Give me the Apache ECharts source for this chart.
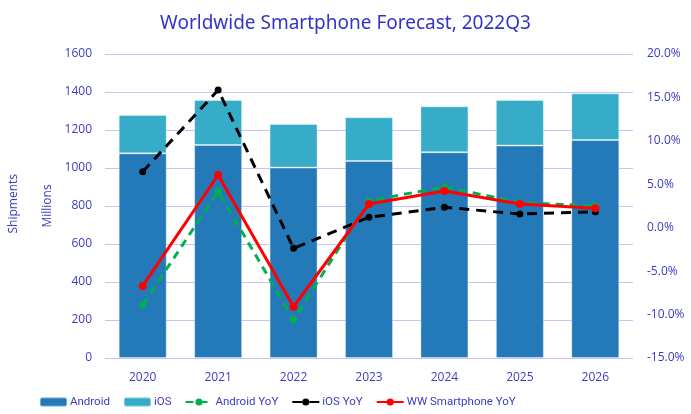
<!DOCTYPE html>
<html><head><meta charset="utf-8">
<script src="https://cdn.jsdelivr.net/npm/echarts@6/dist/echarts.min.js"></script>
<style>html,body{margin:0;padding:0;background:#fff}#c{width:691px;height:414px}</style>
</head><body><div id="c"></div>
<script>
const years = ['2020','2021','2022','2023','2024','2025','2026'];
const android = [1077, 1121, 1002, 1037, 1083, 1118, 1147];
const ios = [202, 237, 230, 230, 242, 240, 246];
const androidYoY = [-8.9, 4.2, -10.6, 3.1, 4.7, 2.9, 2.5];
const iosYoY = [6.45, 15.85, -2.37, 1.2, 2.35, 1.58, 1.84];
const wwYoY = [-6.7, 6.07, -9.1, 2.73, 4.22, 2.73, 2.23];
const leftTicks = [0, 200, 400, 600, 800, 1000, 1200, 1400, 1600];

const txt = '#3b3bc4';
const font = 'Open Sans';
const chart = echarts.init(document.getElementById('c'));
chart.setOption({
  animation: false,
  title: { text: 'Worldwide Smartphone Forecast, 2022Q3', left: 'center', top: 9,
    textStyle: { color: '#3333cc', fontSize: 19, fontWeight: 'normal', fontFamily: 'Noto Sans' } },
  graphic: [{ type: 'text', left: 8, top: 174, rotation: Math.PI/2,
    style: { text: 'Shipments', fill: txt, font: '12px "Open Sans"' } }],
  legend: { bottom: 1, left: 34, itemWidth: 27, itemHeight: 9, itemGap: 13,
    textStyle: { color: txt, fontSize: 11.5, fontFamily: 'Roboto', padding: [0, 0, 0, -2] },
    data: ['Android', 'iOS', 'Android YoY', 'iOS YoY', 'WW Smartphone YoY'] },
  grid: { left: 105, right: 58, top: 54, bottom: 56 },
  xAxis: { type: 'category', data: years,
    axisLine: { show: false }, axisTick: { show: false },
    axisLabel: { color: txt, fontSize: 12, fontFamily: font, margin: 14 } },
  yAxis: [
    { type: 'value', min: 0, max: 1600, interval: 200, name: 'Millions', nameLocation: 'middle',
      nameGap: 45, nameRotate: 90, nameTextStyle: { color: txt, fontSize: 12, fontFamily: font },
      axisLabel: { color: txt, fontSize: 12, fontFamily: font, margin: 13, formatter: v => String(v) },
      splitLine: { lineStyle: { color: '#c4c4f8', width: 1 } } },
    { type: 'value', min: -15, max: 20, interval: 5,
      axisLabel: { color: txt, fontSize: 12, fontFamily: font, margin: 14, formatter: v => v.toFixed(1) + '%' },
      splitLine: { show: false } }
  ],
  series: [
    { name: 'Android', type: 'bar', stack: 's', data: android, barWidth: 48,
      itemStyle: { color: '#2479b9', borderColor: 'rgba(255,255,255,0.35)', borderWidth: 1 } },
    { name: 'iOS', type: 'bar', stack: 's', data: ios, barWidth: 48,
      itemStyle: { color: '#37acc8', borderColor: 'rgba(255,255,255,0.35)', borderWidth: 1 } },
    { name: 'Android YoY', type: 'line', yAxisIndex: 1, data: androidYoY, symbol: 'circle', symbolSize: 7,
      lineStyle: { color: '#00b050', width: 3, type: [8, 6] }, itemStyle: { color: '#00b050' }, z: 3 },
    { name: 'iOS YoY', type: 'line', yAxisIndex: 1, data: iosYoY, symbol: 'circle', symbolSize: 7,
      lineStyle: { color: '#000', width: 3, type: [10, 7] }, itemStyle: { color: '#000' }, z: 4 },
    { name: 'WW Smartphone YoY', type: 'line', yAxisIndex: 1, data: wwYoY, symbol: 'circle', symbolSize: 8,
      lineStyle: { color: '#ff0000', width: 3 }, itemStyle: { color: '#ff0000' }, z: 5 }
  ]
});
</script></body></html>
